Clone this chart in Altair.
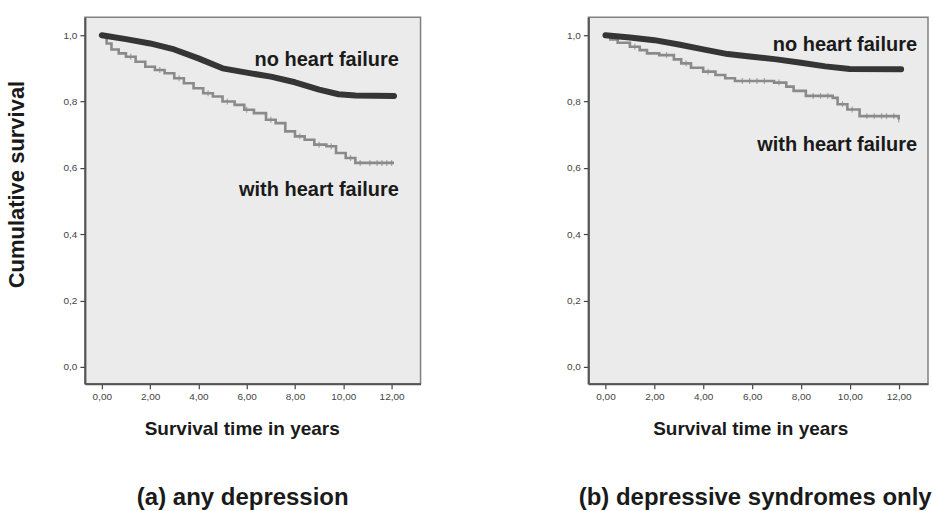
import altair as alt
import pandas as pd
import numpy as np

# ---------------- data ----------------
# Panel (a): any depression
a_nohf_t = [0, 1, 2, 3, 4, 5, 6, 7, 8, 9, 9.8, 10.5, 12.1]
a_nohf_s = [1.0, 0.988, 0.975, 0.957, 0.93, 0.90, 0.887, 0.875, 0.858, 0.836, 0.822, 0.818, 0.817]
a_hf_t = [0, 0.2, 0.4, 0.7, 1.0, 1.4, 1.8, 2.2, 2.6, 3.0, 3.4, 3.8, 4.2, 4.6, 5.0, 5.5,
          5.9, 6.3, 6.8, 7.2, 7.6, 8.0, 8.4, 8.8, 9.3, 9.7, 10.1, 10.5, 12.1]
a_hf_s = [1.0, 0.975, 0.957, 0.945, 0.935, 0.92, 0.905, 0.895, 0.885, 0.87, 0.855, 0.84,
          0.825, 0.815, 0.80, 0.79, 0.775, 0.765, 0.745, 0.735, 0.71, 0.695, 0.685, 0.67,
          0.665, 0.645, 0.63, 0.615, 0.615]
a_hf_censor = [1.2, 2.4, 3.2, 4.4, 5.2, 6.0, 7.0, 8.2, 9.0, 9.5, 10.3, 10.7, 11.1, 11.4, 11.6, 11.8, 12.0]

# Panel (b): depressive syndromes only
b_nohf_t = [0, 1, 2, 3, 4, 5, 6, 7, 8, 9, 10, 12.1]
b_nohf_s = [1.0, 0.993, 0.985, 0.972, 0.957, 0.943, 0.935, 0.927, 0.917, 0.906, 0.898, 0.897]
b_hf_t = [0, 0.2, 0.5, 1.0, 1.4, 1.7, 2.2, 2.8, 3.1, 3.5, 4.0, 4.5, 4.9, 5.3, 6.9, 7.4,
          7.7, 8.2, 9.3, 9.5, 9.9, 10.4, 12.0]
b_hf_s = [1.0, 0.987, 0.977, 0.965, 0.955, 0.945, 0.94, 0.927, 0.915, 0.902, 0.89, 0.88,
          0.87, 0.862, 0.857, 0.845, 0.832, 0.817, 0.811, 0.792, 0.776, 0.756, 0.746]
b_hf_censor = [1.2, 2.5, 3.3, 4.2, 5.6, 5.9, 6.2, 6.5, 7.1, 8.5, 8.8, 9.1, 9.7, 10.1, 10.7, 11.0, 11.3, 11.5, 11.8, 12.0]

x_ticks = [0, 2, 4, 6, 8, 10, 12]
y_ticks = [0.0, 0.2, 0.4, 0.6, 0.8, 1.0]
group_labels = ["no heart failure", "with heart failure"]
panel_titles = ["(a) any depression", "(b) depressive syndromes only"]

FONT = "Liberation Sans"
X_DOMAIN = [-0.7, 13.2]
Y_DOMAIN = [-0.051, 1.054]


def step_value(times, vals, c):
    i = int(np.searchsorted(np.array(times), c, side="right")) - 1
    return vals[max(i, 0)]


def panel(nohf_t, nohf_s, hf_t, hf_s, censor, lab_t, lab_s, title, width, ytitle,
          xtitle_x, cap_dx):
    xenc = alt.X(
        "t:Q",
        scale=alt.Scale(domain=X_DOMAIN, nice=False, zero=False),
        axis=alt.Axis(
            values=x_ticks,
            labelExpr="replace(format(datum.value, '.2f'), '.', ',')",
            title="Survival time in years",
            titlePadding=18,
            titleX=xtitle_x,
        ),
    )
    if ytitle:
        yaxis = alt.Axis(
            values=y_ticks,
            labelExpr="replace(format(datum.value, '.1f'), '.', ',')",
            title="Cumulative survival",
            titleFontSize=22,
            titleY=167,
            titleX=-56,
        )
    else:
        yaxis = alt.Axis(
            values=y_ticks,
            labelExpr="replace(format(datum.value, '.1f'), '.', ',')",
            title=None,
        )
    yenc = alt.Y("s:Q", scale=alt.Scale(domain=Y_DOMAIN, nice=False, zero=False), axis=yaxis)

    df_no = pd.DataFrame({"t": nohf_t, "s": nohf_s})
    df_hf = pd.DataFrame({"t": hf_t, "s": hf_s})
    df_c = pd.DataFrame({"t": censor, "s": [step_value(hf_t, hf_s, c) for c in censor]})
    df_lab = pd.DataFrame({"t": lab_t, "s": lab_s, "label": group_labels})

    hf_line = alt.Chart(df_hf).mark_line(
        interpolate="step-after", color="#8a8a8a", strokeWidth=2.6
    ).encode(x=xenc, y=yenc)
    hf_cens = alt.Chart(df_c).mark_tick(
        orient="vertical", color="#8a8a8a", size=6, thickness=1.3
    ).encode(x=xenc, y=yenc)
    no_line = alt.Chart(df_no).mark_line(
        color="#353535", strokeWidth=6, strokeCap="round", strokeJoin="round"
    ).encode(x=xenc, y=yenc)
    labels = alt.Chart(df_lab).mark_text(
        align="right", baseline="alphabetic", fontSize=20, fontWeight="bold",
        font=FONT, color="#1a1a1a"
    ).encode(x=xenc, y=yenc, text="label:N")

    return alt.layer(hf_line, hf_cens, no_line, labels).properties(
        width=width,
        height=367,
        title=alt.TitleParams(
            text=title, orient="bottom", fontSize=24, fontWeight="bold",
            font=FONT, color="#1a1a1a", offset=47, anchor="middle", dx=cap_dx,
        ),
    )


left = panel(a_nohf_t, a_nohf_s, a_hf_t, a_hf_s, a_hf_censor,
             [12.3, 12.3], [0.907, 0.516], panel_titles[0], 336, True, 157, -10)
right = panel(b_nohf_t, b_nohf_s, b_hf_t, b_hf_s, b_hf_censor,
              [12.75, 12.75], [0.952, 0.651], panel_titles[1], 340, False, 162, -3)

chart = alt.hconcat(left, right, spacing=144).properties(
    padding={"left": 5, "top": 16, "right": 0, "bottom": 0},
    background="white",
).configure_view(
    fill="#ebebeb", stroke="#808080", strokeWidth=1.5
).configure_axis(
    grid=False,
    domainColor="#555555",
    domainWidth=2,
    tickColor="#444444",
    tickSize=5,
    tickWidth=1.2,
    labelFont=FONT,
    labelFontSize=10,
    labelColor="#444444",
    labelPadding=3,
    titleFont=FONT,
    titleFontSize=19,
    titleFontWeight="bold",
    titleColor="#1a1a1a",
)

chart.save("out.html", embed_options={"renderer": "svg", "actions": False})
